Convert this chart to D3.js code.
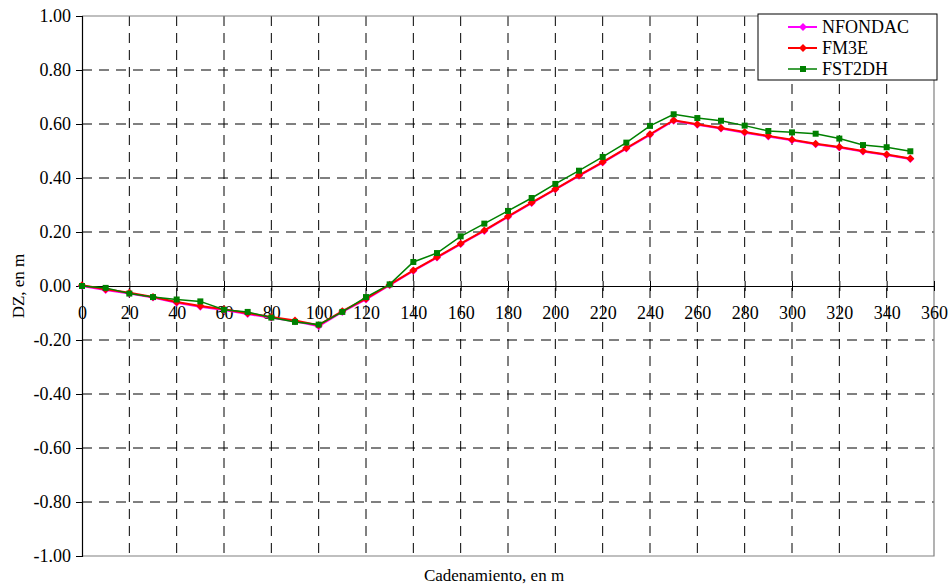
<!DOCTYPE html>
<html>
<head>
<meta charset="utf-8">
<script src="https://cdn.jsdelivr.net/npm/d3@7"></script>
<style>
  body { margin: 0; background: #fff; }
  text { font-family: "Liberation Serif", "DejaVu Serif", "Times New Roman", serif; fill: #000; }
</style>
</head>
<body>
<svg id="svg" width="951" height="585"></svg>
<script>
// stations, m
var stations = [0,10,20,30,40,50,60,70,80,90,100,110,120,130,140,150,160,170,180,190,
  200,210,220,230,240,250,260,270,280,290,300,310,320,330,340,350];
// DZ, m
var nfondac = [0.000,-0.015,-0.028,-0.043,-0.062,-0.077,-0.089,-0.104,-0.118,-0.131,-0.149,-0.096,-0.050,0.003,
  0.056,0.105,0.155,0.204,0.256,0.307,0.358,0.408,0.457,0.509,0.560,0.612,0.597,0.583,0.568,0.554,
  0.540,0.525,0.513,0.498,0.485,0.470];
var fm3e = [0.003,-0.012,-0.025,-0.041,-0.059,-0.074,-0.086,-0.101,-0.115,-0.128,-0.145,-0.093,-0.047,0.005,
  0.058,0.107,0.157,0.206,0.258,0.309,0.359,0.410,0.459,0.511,0.562,0.614,0.599,0.585,0.570,0.556,
  0.542,0.527,0.515,0.500,0.487,0.472];
var fst2dh = [0.000,-0.007,-0.028,-0.041,-0.050,-0.057,-0.088,-0.096,-0.117,-0.133,-0.143,-0.096,-0.041,0.006,
  0.089,0.122,0.184,0.231,0.278,0.326,0.378,0.427,0.478,0.531,0.593,0.636,0.622,0.612,0.594,0.574,
  0.569,0.564,0.546,0.522,0.514,0.499];
var xTicks = d3.range(0, 361, 20);
var yTicks = d3.range(-1, 1.001, 0.2);

var series = [
  {name: "NFONDAC", values: nfondac, color: "#ff00ff", mark: "diamond", w: 2},
  {name: "FM3E", values: fm3e, color: "#ff0000", mark: "diamond", w: 2},
  {name: "FST2DH", values: fst2dh, color: "#008000", mark: "square", w: 1.5}
];

var serif = "Liberation Serif, DejaVu Serif, serif";
var svg = d3.select("#svg");
// plot box (avoid the name "top", it is window.top)
var pL = 82, pR = 934, pT = 16, pB = 556;

var x = d3.scaleLinear().domain([0, 360]).range([pL, pR]);
var y = d3.scaleLinear().domain([-1, 1]).range([pB, pT]);

// grid
var grid = svg.append("g");
grid.selectAll(".vg").data(xTicks.filter(function(d) { return d > 0 && d < 360; })).enter()
  .append("line")
  .attr("x1", function(d) { return x(d); }).attr("x2", function(d) { return x(d); })
  .attr("y1", pT).attr("y2", pB)
  .attr("stroke", "#000").attr("stroke-width", 1).attr("stroke-dasharray", "10,7");
grid.selectAll(".hg").data(yTicks.filter(function(d) { return Math.abs(d) > 0.01 && Math.abs(d) < 0.99; })).enter()
  .append("line")
  .attr("x1", pL).attr("x2", pR)
  .attr("y1", function(d) { return y(d); }).attr("y2", function(d) { return y(d); })
  .attr("stroke", "#000").attr("stroke-width", 1).attr("stroke-dasharray", "10,7");

// frame (top, right, bottom grey)
svg.append("path")
  .attr("d", "M" + pL + "," + pT + "H" + pR + "V" + pB + "H" + pL)
  .attr("fill", "none").attr("stroke", "#808080").attr("stroke-width", 1.2);

// y axis
var fmt = d3.format(".2f");
var yAxis = d3.axisLeft(y).tickValues(yTicks).tickSize(6).tickPadding(5)
  .tickFormat(function(d) { return fmt(Math.abs(d) < 1e-9 ? 0 : d).replace("\u2212", "-"); });
var gy = svg.append("g").attr("transform", "translate(" + pL + ",0)").call(yAxis)
  .attr("font-family", serif).attr("font-size", 18);
gy.select(".domain").attr("stroke", "#000").attr("stroke-width", 1.2);
gy.selectAll(".tick line").attr("stroke", "#000");

// x axis on the zero line
var xAxis = d3.axisBottom(x).tickValues(xTicks).tickSize(5).tickPadding(15).tickSizeOuter(0);
var gx = svg.append("g").attr("transform", "translate(0," + y(0) + ")").call(xAxis)
  .attr("font-family", serif).attr("font-size", 18);
gx.select(".domain").attr("stroke", "#000").attr("stroke-width", 1.2);
gx.selectAll(".tick line").attr("y1", -5).attr("stroke", "#000");

// lines and markers
var line = d3.line().x(function(d, i) { return x(stations[i]); }).y(function(d) { return y(d); });
var diamond = d3.symbol().type(d3.symbolDiamond2).size(40);
var square = d3.symbol().type(d3.symbolSquare).size(36);

series.forEach(function(s) {
  svg.append("path").datum(s.values)
    .attr("d", line).attr("fill", "none")
    .attr("stroke", s.color).attr("stroke-width", s.w);
  svg.append("g").selectAll("path").data(s.values).enter()
    .append("path")
    .attr("transform", function(d, i) { return "translate(" + x(stations[i]) + "," + y(d) + ")"; })
    .attr("d", s.mark === "square" ? square : diamond)
    .attr("fill", s.color);
});

// axis titles
svg.append("text")
  .attr("transform", "translate(24," + y(0) + ") rotate(-90)")
  .attr("text-anchor", "middle")
  .style("font-size", "17px")
  .text("DZ, en m");
svg.append("text")
  .attr("x", (pL + pR) / 2 - 14).attr("y", 581)
  .attr("text-anchor", "middle")
  .style("font-size", "17px")
  .text("Cadenamiento, en m");

// legend
var lg = svg.append("g").attr("transform", "translate(758,14)");
lg.append("rect").attr("width", 179).attr("height", 66)
  .attr("fill", "#fff").attr("stroke", "#000").attr("stroke-width", 1);
series.forEach(function(s, i) {
  var cy = 13 + i * 21;
  lg.append("line").attr("x1", 30).attr("x2", 59).attr("y1", cy).attr("y2", cy)
    .attr("stroke", s.color).attr("stroke-width", s.w);
  lg.append("path").attr("transform", "translate(45," + cy + ")")
    .attr("d", s.mark === "square" ? square : diamond).attr("fill", s.color);
  lg.append("text").attr("x", 64).attr("y", cy + 6)
    .style("font-size", "18px").text(s.name);
});
</script>
</body>
</html>
